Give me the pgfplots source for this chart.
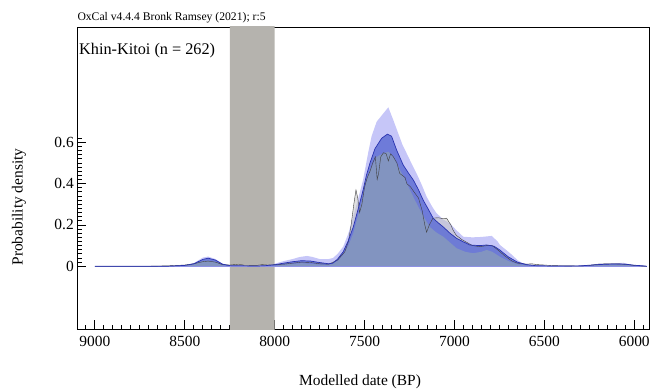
\documentclass[border=0pt]{standalone}
\usepackage{fontspec}
\setmainfont{Liberation Serif}
\usepackage{pgfplots}
\usepackage{pgfplotstable}
\pgfplotsset{compat=1.18}
\definecolor{bandgray}{RGB}{181,179,174}
\definecolor{lav}{RGB}{198,198,248}
\definecolor{medblue}{RGB}{95,110,212}
\definecolor{slate}{RGB}{130,148,192}
\definecolor{darkblue}{RGB}{40,50,175}
\definecolor{baseblue}{RGB}{140,140,240}

\pgfplotstableread{
x y
9000 0
8600 0
8500 0.005
8450 0.015
8400 0.042
8370 0.047
8330 0.035
8290 0.012
8250 0.004
8100 0.002
8050 0.005
8000 0.012
7950 0.025
7900 0.035
7860 0.045
7820 0.05
7790 0.045
7750 0.035
7700 0.035
7676 0.04
7650 0.06
7619 0.095
7590 0.16
7563 0.24
7535 0.33
7508 0.42
7480 0.55
7461 0.63
7433 0.70
7396 0.74
7368 0.77
7341 0.71
7313 0.644
7290 0.59
7266 0.547
7240 0.50
7211 0.45
7180 0.39
7155 0.337
7125 0.29
7100 0.257
7060 0.225
7025 0.208
6990 0.175
6951 0.143
6900 0.14
6850 0.142
6793 0.147
6760 0.12
6747 0.103
6700 0.07
6680 0.055
6650 0.03
6625 0.016
6580 0.006
6547 0.004
6450 0.001
6300 0.002
6250 0.006
6200 0.012
6150 0.014
6100 0.014
6060 0.017
6020 0.008
5980 0.003
5930 0
}\tabU

\pgfplotstableread{
x y
9000 0
8600 0
8500 0.004
8450 0.012
8400 0.033
8370 0.039
8330 0.03
8290 0.01
8250 0.003
8100 0.001
8050 0.003
8000 0.007
7950 0.015
7900 0.022
7850 0.027
7800 0.025
7750 0.018
7700 0.012
7676 0.015
7650 0.035
7619 0.07
7590 0.125
7563 0.19
7535 0.28
7508 0.37
7490 0.44
7470 0.50
7442 0.57
7405 0.62
7373 0.64
7350 0.63
7322 0.563
7285 0.49
7255 0.45
7229 0.418
7200 0.37
7174 0.32
7145 0.275
7118 0.232
7090 0.21
7062 0.19
7025 0.16
6988 0.135
6950 0.118
6914 0.103
6860 0.1
6821 0.103
6780 0.097
6750 0.08
6700 0.045
6650 0.02
6600 0.008
6550 0.003
6450 0.001
6300 0.002
6250 0.005
6200 0.008
6150 0.01
6100 0.011
6050 0.01
6000 0.005
5950 0.002
5930 0
}\tabM

\pgfplotstableread{
x y
9000 0
8600 0
8450 0.008
8400 0.025
8370 0.027
8330 0.02
8290 0.005
8250 0.001
8000 0.003
7950 0.008
7900 0.012
7850 0.015
7800 0.012
7750 0.008
7700 0.006
7650 0.025
7619 0.055
7590 0.1
7563 0.16
7535 0.25
7508 0.337
7490 0.41
7470 0.466
7433 0.53
7396 0.547
7368 0.555
7341 0.53
7303 0.466
7275 0.42
7248 0.37
7220 0.32
7192 0.273
7165 0.23
7137 0.19
7100 0.163
7062 0.143
7025 0.115
6988 0.087
6940 0.07
6896 0.063
6850 0.07
6821 0.079
6790 0.07
6747 0.046
6700 0.025
6650 0.01
6600 0.003
6550 0.001
6300 0.001
6250 0.003
6200 0.006
6100 0.008
6050 0.007
6000 0.003
5930 0
}\tabL

\pgfplotstableread{
x y
9000 0
8700 0
8600 0.002
8550 0.004
8500 0.006
8450 0.012
8400 0.022
8370 0.025
8330 0.02
8290 0.008
8250 0.006
8200 0.01
8170 0.005
8100 0.004
8070 0.008
8040 0.006
8000 0.008
7950 0.01
7900 0.015
7850 0.02
7800 0.018
7750 0.012
7700 0.01
7650 0.03
7610 0.07
7590 0.12
7575 0.2
7560 0.3
7548 0.37
7538 0.33
7528 0.26
7515 0.3
7500 0.385
7485 0.43
7470 0.46
7455 0.5
7440 0.53
7430 0.42
7422 0.45
7410 0.53
7395 0.55
7380 0.545
7368 0.51
7355 0.545
7340 0.53
7320 0.50
7305 0.45
7290 0.44
7275 0.43
7265 0.40
7245 0.385
7225 0.36
7200 0.33
7180 0.27
7165 0.2
7155 0.165
7140 0.2
7120 0.233
7090 0.235
7060 0.23
7044 0.233
7020 0.2
7008 0.175
6990 0.15
6960 0.13
6930 0.115
6900 0.1
6860 0.095
6820 0.1
6790 0.1
6760 0.08
6720 0.05
6680 0.025
6650 0.015
6600 0.01
6570 0.012
6540 0.008
6500 0.006
6450 0.003
6300 0.001
6250 0.004
6200 0.01
6150 0.012
6100 0.012
6050 0.01
6000 0.004
5960 0.001
5930 0
}\tabS

\begin{document}
\begin{tikzpicture}[x=1bp,y=1bp]
\useasboundingbox (0,0) rectangle (651,388);
\begin{axis}[
  at={(77.3bp,59bp)}, anchor=south west,
  scale only axis, width=571.7bp, height=302bp,
  x dir=reverse,
  xmin=5918, xmax=9098, ymin=-0.304, ymax=1.159,
  axis line style={line width=0.9bp},
  tick style={line width=0.9bp, black},
  tick pos=left, tick align=inside,
  major tick length=8.7bp, minor tick length=4.5bp,
  xtick={6000,6500,...,9000},
  minor xtick={5950,6000,...,9050},
  ytick={0,0.2,0.4,0.6},
  minor ytick={0,0.02,...,0.621},
  yticklabels={0,0.2,0.4,0.6},
  /pgf/number format/assume math mode=true,
  /pgf/number format/set thousands separator={},
  ticklabel style={font=\fontsize{15.5}{17}\selectfont},
  xticklabel style={yshift=-3.5bp},
]
\addplot[fill=bandgray, draw=none] coordinates {(8250,-0.5) (8250,1.5) (8000,1.5) (8000,-0.5) (8250,-0.5)};
\addplot[baseblue, line width=0.8bp] coordinates {(9000,0) (5930,0)};
\addplot[fill=lav, draw=none] table {\tabU} \closedcycle;
\addplot[fill=gray!45, fill opacity=0.55, draw=none] table {\tabS} \closedcycle;
\addplot[fill=medblue, fill opacity=0.85, draw=none] table {\tabM} \closedcycle;
\addplot[fill=slate, draw=none] table {\tabL} \closedcycle;
\addplot[black!75, line width=0.4bp] table {\tabS};
\addplot[darkblue, line width=0.7bp] table {\tabM};
\end{axis}
\node[anchor=base west, inner sep=0, font=\fontsize{11.7}{13}\selectfont] at (77.3,368) {OxCal v4.4.4 Bronk Ramsey (2021); r:5};
\node[anchor=base west, inner sep=0, font=\fontsize{16.3}{19}\selectfont] at (79,334) {Khin-Kitoi (n = 262)};
\node[anchor=base, inner sep=0, font=\fontsize{15.5}{17}\selectfont] at (360,3) {Modelled date (BP)};
\node[rotate=90, inner sep=0, font=\fontsize{15.5}{17}\selectfont] at (19,181) {Probability density};
\end{tikzpicture}
\end{document}
